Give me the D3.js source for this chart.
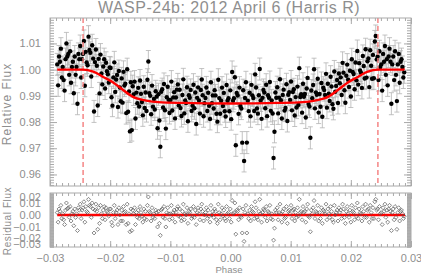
<!DOCTYPE html>
<html>
<head>
<meta charset="utf-8">
<script src="https://cdn.jsdelivr.net/npm/d3@7"></script>
<style>
  html, body { margin: 0; padding: 0; background: #fff; }
  svg { display: block; font-family: "Liberation Sans", Arial, sans-serif; }
</style>
</head>
<body>
<div id="container"></div>
<script>
// WASP-24b light curve, 2012 April 6 (Harris R)

//### DATA ###
// observations are taken at a fixed cadence in phase
const phaseStart = -0.0288;
const phaseStep = 0.000153;
// residuals (flux - model) in parts per thousand
const residualPpt = [
  2, -6, 5, 3, 8, -3, 1, -4, -8, 4, 10, 5, 6,
  -2, 7, -5, 1, 3, -9, 5, -2, 1, -13, 6, 4,
  9, -3, 4, 6, 11, -6, 7, 3, 2, 13, 8, 7, -2,
  10, 5, -15, 4, 9, 3, -12, 6, -7, 8, 1, -3, 4,
  7, -4, 6, 3, 2, -1, 5,
  5, -6, -9, 2, 8, -3, 2, 4, -8, 6, 0, -5, 4,
  -5, 7, 2, 3, -8, 9, -7, 1, -14, 5, -13, 4, 1,
  6, -8, 2, -2, 4, -3, 7, 2, -1, -6, 5, -3, 3,
  -4, 8, 15, 3, 2, -5, 6, -2, 1, -3, 4, 2, -10,
  3, -7, -17, 4, 5, -2, 7, -3, -10, 2, 6, 1, -4,
  1, 8, -3, 2, 4, -6, 2, 5, 7, -1, 5, -2, -5,
  3, 9, -4, 1, 0, 6, -7, 3, 2, 5, -3, -1, 7,
  -2, 4, -8, 2, 6, 1, -4, 5, 9, 3, -5, 0, 2,
  6, -3, 4, -1, -6, 8, 0, 3, -2, 5, 3, -4, -7,
  9, 2, -4, 1, 6, -1, 4, -3, -5, 7, 1, 2, -3,
  5, -6, 12, 1, 2, 10, -16, 4, 3, -4, 6, -1, -2,
  -15, 5, -22, 2, 8, -15, 1, -3, 4, -5, 7, 3, 2,
  -3, 11, 6, -2, -4, 3, 13, 1, -6, 2, 5, 4, -2,
  7, -5, 3, 2, 8, -3, 1, -4, -21, -11, 4, 2, 6,
  -4, 2, 9, 1, -6, 3, 5, -3, -2, 7, -7, 3, 4,
  1, 8, -3, 4, 5, -5, 2, -2, 6, -1, 13, 2, 3,
  -4, 7, 2, 3, -6, 5, 9, -1, -2, -14, 4, 1, 6,
  12, -3, 3, 2, 8, -5, 2, -3, 6, -7, 4, 3, 1,
  9, -4, 5, 1, -2, 7, 3, -4, -6, 8, 0, 2, 4,
  -5, 6, 2, 4, -3, 9, 5, -2, -7, 3, 7, 1, -2,
  4, -6, 8, 3, 2, -4, 6, -1, 10, -3, 5, 2, 1,
  -5, 7, 3, -2, 9, -2, 4, 5, -6, 8, 2, -3, 6,
  -3, 11, 13, 4, 5, -4, 7, 1, 2, -8, 6, 3, 9,
  -2, 4, -6, 5, 8, 3, -13, 2, 5, -4, 7, -2, -12,
  2, 6, -5, 3, 4, 1, -3, -1
];
const fluxError = 0.0042;

// transit model (red curve)
const modelPhase = [ -0.0288, -0.0245, -0.0228, -0.0210, -0.0195, -0.0180, -0.0162, -0.0140, -0.0120, -0.0080, 0.0000,
  0.0080, 0.0120, 0.0140, 0.0162, 0.0180, 0.0195, 0.0210, 0.0228, 0.0245, 0.0290 ];
const modelFlux = [ 1.0000, 1.0000, 0.9992, 0.9970, 0.9951, 0.9925, 0.9896, 0.9882, 0.9876, 0.9873, 0.9871,
  0.9873, 0.9876, 0.9882, 0.9896, 0.9925, 0.9951, 0.9970, 0.9992, 1.0000, 1.0000 ];

// first and last contact (dashed lines)
const contactPhases = [ -0.0245, 0.0245 ];

// tick labels
const phaseTicks = [ -0.03, -0.02, -0.01, 0.00, 0.01, 0.02, 0.03 ];
const fluxTicks = [ 0.96, 0.97, 0.98, 0.99, 1.00, 1.01 ];
const residTicks = [ -0.03, -0.02, -0.01, 0.00, 0.01, 0.02 ];


//### LAYOUT ###
const W = 421, H = 274;
const left = 50, right = 411;
const top1 = 18, bottom1 = 186;
const top2 = 193, bottom2 = 247;
const axisGrey = '#aaaaaa';
const textGrey = '#8e8e8e';

//_____ SCALES _____
const x = d3.scaleLinear().domain( [ -0.03, 0.03 ] ).range( [ left, right ] );
const yFlux = d3.scaleLinear().domain( [ 0.9556, 1.0197 ] ).range( [ bottom1, top1 ] );
const yRes = d3.scaleLinear().domain( [ -0.0267, 0.0183 ] ).range( [ bottom2, top2 ] );
//--- the residual labels are squeezed at the panel edges like in the original plot
const yResLabel = d3.scaleLinear()
  .domain( residTicks )
  .range( [ 244, 238, 227, 215, 203, 197 ] );
const model = d3.scaleLinear().domain( modelPhase ).range( modelFlux );

//_____ DATA POINTS _____
const points = residualPpt.map( ( r, i ) => {
  const phase = phaseStart + i * phaseStep;
  const resid = r / 1000;
  return { phase, resid, flux: model( phase ) + resid };
} );

//_____ SVG _____
const svg = d3.select( '#container' ).append( 'svg' )
  .attr( 'width', W )
  .attr( 'height', H );

const fmt = d3.format( '.2f' );
const range = ( a, b, s ) => d3.range( Math.round( a / s ), Math.round( b / s ) + 1 ).map( k => k * s );

function styleAxis ( g ) {
  g.select( '.domain' ).remove();
  g.selectAll( 'line' ).attr( 'stroke', axisGrey );
  g.selectAll( 'text' )
    .attr( 'fill', textGrey )
    .style( 'font-size', '11px' )
    .style( 'font-family', '"Liberation Sans", Arial, sans-serif' );
}

//_____ TOP PANEL _____
// error bars
const bars = svg.append( 'g' ).attr( 'stroke', '#b4b4b4' ).attr( 'stroke-width', 0.8 );
points.forEach( d => {
  const xc = x( d.phase );
  const y0 = yFlux( d.flux - fluxError ), y1 = yFlux( d.flux + fluxError );
  bars.append( 'line' ).attr( 'x1', xc ).attr( 'x2', xc ).attr( 'y1', y0 ).attr( 'y2', y1 );
  bars.append( 'line' ).attr( 'x1', xc - 2.5 ).attr( 'x2', xc + 2.5 ).attr( 'y1', y0 ).attr( 'y2', y0 );
  bars.append( 'line' ).attr( 'x1', xc - 2.5 ).attr( 'x2', xc + 2.5 ).attr( 'y1', y1 ).attr( 'y2', y1 );
} );

// dots
svg.append( 'g' ).selectAll( 'circle' )
  .data( points )
  .enter()
  .append( 'circle' )
  .attr( 'cx', d => x( d.phase ) )
  .attr( 'cy', d => yFlux( d.flux ) )
  .attr( 'r', 2.2 )
  .attr( 'fill', '#000' );

// contact lines
svg.append( 'g' ).selectAll( 'line' )
  .data( contactPhases )
  .enter()
  .append( 'line' )
  .attr( 'x1', d => x( d ) ).attr( 'x2', d => x( d ) )
  .attr( 'y1', top1 ).attr( 'y2', bottom1 )
  .attr( 'stroke', '#f47c7c' )
  .attr( 'stroke-width', 1.4 )
  .attr( 'stroke-dasharray', '5,3' );

// model
svg.append( 'path' )
  .datum( modelPhase.map( ( p, i ) => [ p, modelFlux[ i ] ] ) )
  .attr( 'fill', 'none' )
  .attr( 'stroke', '#ff0000' )
  .attr( 'stroke-width', 2.4 )
  .attr( 'd', d3.line().x( d => x( d[ 0 ] ) ).y( d => yFlux( d[ 1 ] ) ).curve( d3.curveMonotoneX ) );

// frame
svg.append( 'rect' )
  .attr( 'x', left ).attr( 'y', top1 )
  .attr( 'width', right - left ).attr( 'height', bottom1 - top1 )
  .attr( 'fill', 'none' ).attr( 'stroke', axisGrey ).attr( 'stroke-width', 1 );

// y axes of the top panel
svg.append( 'g' ).attr( 'transform', `translate(${left},0)` )
  .call( d3.axisLeft( yFlux ).tickValues( range( 0.956, 1.019, 0.001 ) ).tickSize( -4 ).tickFormat( '' ) )
  .call( styleAxis );
svg.append( 'g' ).attr( 'transform', `translate(${left},0)` )
  .call( d3.axisLeft( yFlux ).tickValues( fluxTicks ).tickSize( -7 ).tickPadding( 9 ).tickFormat( fmt ) )
  .call( styleAxis );
svg.append( 'g' ).attr( 'transform', `translate(${right},0)` )
  .call( d3.axisRight( yFlux ).tickValues( range( 0.956, 1.019, 0.001 ) ).tickSize( -4 ).tickFormat( '' ) )
  .call( styleAxis );
svg.append( 'g' ).attr( 'transform', `translate(${right},0)` )
  .call( d3.axisRight( yFlux ).tickValues( fluxTicks ).tickSize( -7 ).tickFormat( '' ) )
  .call( styleAxis );

// x ticks of the top panel
[ [ top1, d3.axisTop ], [ bottom1, d3.axisBottom ] ].forEach( ( [ yy, ax ] ) => {
  svg.append( 'g' ).attr( 'transform', `translate(0,${yy})` )
    .call( ax( x ).tickValues( range( -0.03, 0.03, 0.001 ) ).tickSize( -3 ).tickFormat( '' ) )
    .call( styleAxis );
  svg.append( 'g' ).attr( 'transform', `translate(0,${yy})` )
    .call( ax( x ).tickValues( phaseTicks ).tickSize( -6 ).tickFormat( '' ) )
    .call( styleAxis );
} );

//_____ BOTTOM PANEL _____
svg.append( 'line' )
  .attr( 'x1', x( modelPhase[ 0 ] ) ).attr( 'x2', x( modelPhase[ modelPhase.length - 1 ] ) )
  .attr( 'y1', yRes( 0 ) ).attr( 'y2', yRes( 0 ) )
  .attr( 'stroke', '#ff0000' ).attr( 'stroke-width', 2.4 );

const diamond = d3.symbol().type( d3.symbolDiamond2 ).size( 10 );
svg.append( 'g' ).selectAll( 'path' )
  .data( points )
  .enter()
  .append( 'path' )
  .attr( 'transform', d => `translate(${x( d.phase )},${yRes( d.resid )})` )
  .attr( 'd', diamond )
  .attr( 'fill', 'none' )
  .attr( 'stroke', '#555' )
  .attr( 'stroke-width', 0.7 );

svg.append( 'rect' )
  .attr( 'x', left ).attr( 'y', top2 )
  .attr( 'width', right - left ).attr( 'height', bottom2 - top2 )
  .attr( 'fill', 'none' ).attr( 'stroke', axisGrey ).attr( 'stroke-width', 1 );

// dense residual ticks on both sides
svg.append( 'g' ).attr( 'transform', `translate(${left},0)` )
  .call( d3.axisLeft( yRes ).tickValues( range( -0.0265, 0.018, 0.0005 ) ).tickSize( -4 ).tickFormat( '' ) )
  .call( styleAxis );
svg.append( 'g' ).attr( 'transform', `translate(${right},0)` )
  .call( d3.axisRight( yRes ).tickValues( range( -0.0265, 0.018, 0.0005 ) ).tickSize( -4 ).tickFormat( '' ) )
  .call( styleAxis );
svg.append( 'g' ).attr( 'transform', `translate(${left},0)` )
  .call( d3.axisLeft( yResLabel ).tickValues( residTicks ).tickSize( 0 ).tickPadding( 9 ).tickFormat( fmt ) )
  .call( styleAxis );

[ [ top2, d3.axisTop ], [ bottom2, d3.axisBottom ] ].forEach( ( [ yy, ax ] ) => {
  svg.append( 'g' ).attr( 'transform', `translate(0,${yy})` )
    .call( ax( x ).tickValues( range( -0.03, 0.03, 0.001 ) ).tickSize( -3 ).tickFormat( '' ) )
    .call( styleAxis );
  svg.append( 'g' ).attr( 'transform', `translate(0,${yy})` )
    .call( ax( x ).tickValues( phaseTicks ).tickSize( -6 ).tickPadding( 7 ).tickFormat( yy === bottom2 ? fmt : '' ) )
    .call( styleAxis );
} );

//_____ TITLES _____
svg.append( 'text' )
  .attr( 'x', 229 ).attr( 'y', 13 )
  .attr( 'text-anchor', 'middle' )
  .attr( 'fill', textGrey )
  .style( 'font-size', '16px' )
  .style( 'letter-spacing', '0.5px' )
  .text( 'WASP-24b: 2012 April 6 (Harris R)' );

svg.append( 'text' )
  .attr( 'transform', `translate(11,${( top1 + bottom1 ) / 2 + 2}) rotate(-90)` )
  .attr( 'text-anchor', 'middle' )
  .attr( 'fill', textGrey )
  .style( 'font-size', '12px' )
  .style( 'letter-spacing', '1px' )
  .text( 'Relative Flux' );

svg.append( 'text' )
  .attr( 'transform', `translate(11,${( top2 + bottom2 ) / 2 + 1}) rotate(-90)` )
  .attr( 'text-anchor', 'middle' )
  .attr( 'fill', textGrey )
  .style( 'font-size', '10px' )
  .style( 'letter-spacing', '0.6px' )
  .text( 'Residual Flux' );

svg.append( 'text' )
  .attr( 'x', 229 ).attr( 'y', 273 )
  .attr( 'text-anchor', 'middle' )
  .attr( 'fill', textGrey )
  .style( 'font-size', '9.5px' )
  .text( 'Phase' );
</script>
</body>
</html>
